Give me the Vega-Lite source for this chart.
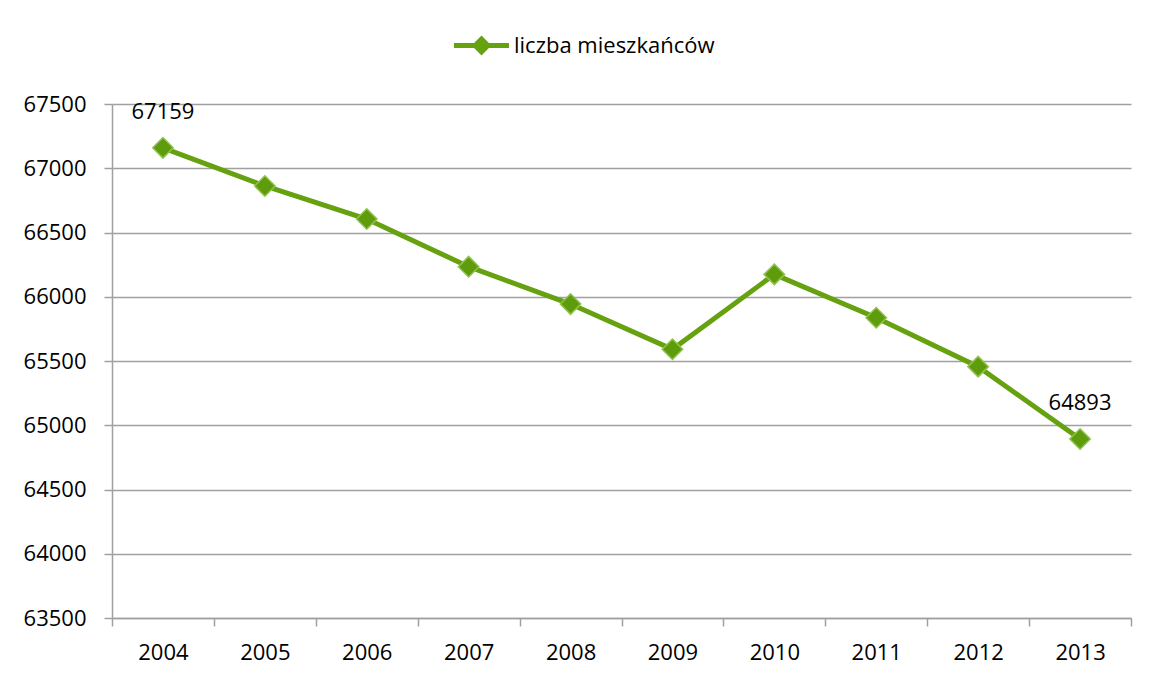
{
  "$schema": "https://vega.github.io/schema/vega-lite/v6.json",
  "width": 1019,
  "height": 514,
  "autosize": {"type": "none"},
  "padding": {"left": 112, "top": 104, "right": 19, "bottom": 59},
  "background": "white",
  "config": {
    "view": {"stroke": null},
    "font": "Open Sans",
    "axis": {"labelFont": "Open Sans", "labelFontSize": 22, "labelColor": "#000000", "domainColor": "#a0a0a0", "tickColor": "#a0a0a0", "gridColor": "#a0a0a0", "domainWidth": 1.5, "tickWidth": 1.5, "gridWidth": 1.5, "tickSize": 8}
  },
  "data": {
    "values": [
      {"rok": "2004", "wartosc": 67159, "seria": "liczba mieszkańców"},
      {"rok": "2005", "wartosc": 66862, "seria": "liczba mieszkańców"},
      {"rok": "2006", "wartosc": 66605, "seria": "liczba mieszkańców"},
      {"rok": "2007", "wartosc": 66234, "seria": "liczba mieszkańców"},
      {"rok": "2008", "wartosc": 65943, "seria": "liczba mieszkańców"},
      {"rok": "2009", "wartosc": 65591, "seria": "liczba mieszkańców"},
      {"rok": "2010", "wartosc": 66174, "seria": "liczba mieszkańców"},
      {"rok": "2011", "wartosc": 65837, "seria": "liczba mieszkańców"},
      {"rok": "2012", "wartosc": 65456, "seria": "liczba mieszkańców"},
      {"rok": "2013", "wartosc": 64893, "seria": "liczba mieszkańców"}
    ]
  },
  "encoding": {
    "x": {
      "field": "rok", "type": "ordinal",
      "scale": {"type": "band", "paddingInner": 0, "paddingOuter": 0},
      "axis": {"title": null, "labelAngle": 0, "tickBand": "extent", "labelPadding": 16, "grid": false}
    },
    "y": {
      "field": "wartosc", "type": "quantitative",
      "scale": {"domain": [63500, 67500], "zero": false, "nice": false},
      "axis": {"title": null, "values": [63500, 64000, 64500, 65000, 65500, 66000, 66500, 67000, 67500], "grid": true, "labelPadding": 18, "format": "d"}
    }
  },
  "layer": [
    {
      "mark": {"type": "line", "strokeWidth": 5},
      "encoding": {
        "color": {
          "field": "seria", "type": "nominal",
          "scale": {"domain": ["liczba mieszkańców"], "range": ["#66a110"]},
          "legend": {
            "title": null,
            "orient": "none",
            "legendX": 342,
            "legendY": -86,
            "symbolType": "M -1 -0.09 L 1 -0.09 L 1 0.09 L -1 0.09 Z M 0 -0.36 L 0.36 0 L 0 0.36 L -0.36 0 Z",
            "symbolSize": 3025,
            "labelFontSize": 22,
            "labelFont": "Open Sans",
            "labelColor": "#000000",
            "labelLimit": 0,
            "labelOffset": 5,
            "encode": {"symbols": {"update": {"fill": {"value": "#66a110"}, "stroke": {"value": "#66a110"}, "strokeWidth": {"value": 0}, "opacity": {"value": 1}}}}
          }
        }
      }
    },
    {
      "mark": {"type": "point", "shape": "diamond", "filled": true, "size": 420, "fill": "#5f9c0b", "stroke": "#90c252", "strokeWidth": 1.5, "opacity": 1}
    },
    {
      "transform": [{"filter": "datum.rok == '2004' || datum.rok == '2013'"}],
      "mark": {"type": "text", "dy": -36, "fontSize": 22, "font": "Open Sans", "color": "#000000"},
      "encoding": {"text": {"field": "wartosc", "type": "quantitative", "format": "d"}}
    }
  ]
}
